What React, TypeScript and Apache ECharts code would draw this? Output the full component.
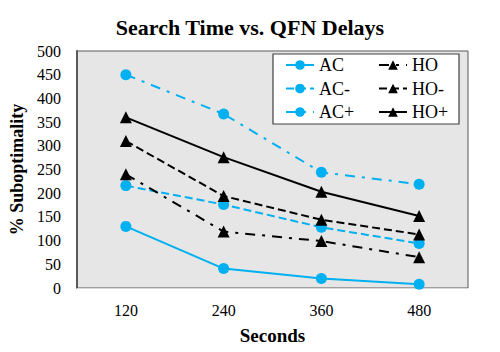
import React, { useEffect, useRef } from "react";
import * as echarts from "echarts";

const categories = ["120", "240", "360", "480"];
const acValues = [130, 41, 20, 8];
const acMinusValues = [216, 176, 128, 94];
const acPlusValues = [450, 367, 244, 219];
const hoValues = [240, 119, 99, 65];
const hoMinusValues = [310, 194, 144, 113];
const hoPlusValues = [360, 276, 203, 152];

const CYAN = "#00b0f0";
const BLACK = "#000000";
const FONT = "'Liberation Serif', 'Times New Roman', serif";
const DASH = [8, 4];
const DASHDOT = [10, 7, 3, 7];

export default function App() {
  const ref = useRef<HTMLDivElement>(null);
  useEffect(() => {
    if (!ref.current) return;
    const chart = echarts.init(ref.current, null, { renderer: "svg" });
    const mk = (name: string, data: number[], color: string, type: any, symbol: string) => ({
      name,
      type: "line",
      data,
      symbol,
      symbolSize: symbol === "circle" ? 11 : 12,
      color,
      itemStyle: { color },
      lineStyle: { color, width: 2, type },
    });
    const legendText = { fontFamily: FONT, fontSize: 18, color: "#000", lineHeight: 18 };
    chart.setOption({
      animation: false,
      backgroundColor: "#ffffff",
      textStyle: { fontFamily: FONT },
      title: {
        text: "Search Time vs. QFN Delays",
        left: 245,
        textAlign: "center",
        top: 11,
        textStyle: { fontFamily: FONT, fontWeight: "bold", fontSize: 22, color: "#000" },
      },
      grid: {
        left: 77,
        top: 51,
        right: 32,
        bottom: 64,
        show: true,
        backgroundColor: "#e6e6e6",
        borderColor: "#595959",
        borderWidth: 1,
      },
      graphic: [
        {
          type: "rect",
          z: 3,
          shape: { x: 273, y: 54, width: 186, height: 70 },
          style: { fill: "#ffffff", stroke: "#404040", lineWidth: 1.2 },
        },
      ],
      legend: [
        {
          data: ["AC", "AC-", "AC+"],
          orient: "vertical",
          left: 285,
          top: 56,
          itemWidth: 28,
          itemHeight: 12,
          itemGap: 5.5,
          padding: 0,
          textStyle: legendText,
          z: 5,
        },
        {
          data: ["HO", "HO-", "HO+"],
          orient: "vertical",
          left: 378,
          top: 56,
          itemWidth: 28,
          itemHeight: 12,
          itemGap: 5.5,
          padding: 0,
          textStyle: legendText,
          z: 5,
        },
      ],
      xAxis: {
        type: "category",
        data: categories,
        boundaryGap: true,
        axisTick: { show: false },
        axisLine: { show: true, lineStyle: { color: "#d9d9d9", width: 1 } },
        axisLabel: { fontFamily: FONT, fontSize: 16, color: "#000", margin: 14 },
        name: "Seconds",
        nameLocation: "middle",
        nameGap: 38,
        nameTextStyle: { fontFamily: FONT, fontSize: 19, fontWeight: "bold", color: "#000" },
      },
      yAxis: {
        type: "value",
        min: 0,
        max: 500,
        interval: 50,
        splitLine: { show: false },
        axisTick: { show: false },
        axisLine: { show: true, lineStyle: { color: "#595959", width: 2 } },
        axisLabel: { fontFamily: FONT, fontSize: 16, color: "#000", margin: 16 },
        name: "% Suboptimality",
        nameLocation: "middle",
        nameGap: 47,
        nameTextStyle: { fontFamily: FONT, fontSize: 18, fontWeight: "bold", color: "#000" },
      },
      series: [
        mk("AC", acValues, CYAN, "solid", "circle"),
        mk("AC-", acMinusValues, CYAN, DASH, "circle"),
        mk("AC+", acPlusValues, CYAN, DASHDOT, "circle"),
        mk("HO", hoValues, BLACK, DASHDOT, "triangle"),
        mk("HO-", hoMinusValues, BLACK, DASH, "triangle"),
        mk("HO+", hoPlusValues, BLACK, "solid", "triangle"),
      ],
    });
    return () => chart.dispose();
  }, []);
  return <div ref={ref} style={{ width: 500, height: 352, position: "absolute", left: 0, top: 0 }} />;
}
